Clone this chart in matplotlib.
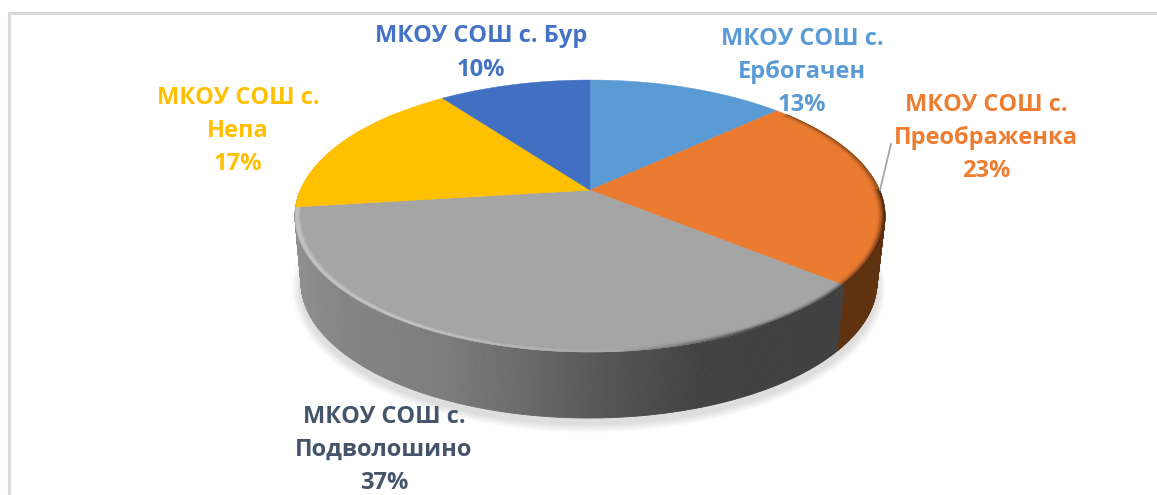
import numpy as np
import matplotlib
matplotlib.use("Agg")
import matplotlib.pyplot as plt
from matplotlib.collections import PolyCollection
from matplotlib.colors import to_rgb

plt.rcParams['font.family'] = ['Open Sans', 'DejaVu Sans']

# ---- data (clockwise from 12 o'clock) ----
categories = ["МКОУ СОШ с.\nЕрбогачен", "МКОУ СОШ с.\nПреображенка", "МКОУ СОШ с.\nПодволошино",
              "МКОУ СОШ с.\nНепа", "МКОУ СОШ с. Бур"]
shares = [13, 23, 37, 17, 10]
face_colors = ["#5B9BD5", "#EA7B30", "#A5A5A5", "#FFC000", "#4170C2"]
label_colors = ["#5B9BD5", "#ED7D31", "#44546A", "#FFC000", "#4472C4"]
side_colors = ["#35597A", "#5F3210", "#404040", "#8F8F8F", "#27437A"]
label_pos = [(802, 72), (986, 138), (384, 450), (238, 131), (481, 53)]

W, H = 1157, 495
fig = plt.figure(figsize=(W / 100, H / 100), dpi=100)
ax = fig.add_axes([0, 0, 1, 1])
ax.set_xlim(0, W)
ax.set_ylim(H, 0)
ax.axis("off")

# geometry of the tilted disc
CX, CY, RX, RY = 590.0, 216.0, 295.0, 136.0
BCX, BCY, BRX, BRY = 589.0, 282.0, 288.0, 136.0
E = 0.19


def project(t, cx, cy, rx, ry):
    """Perspective map of a circle angle to a point on the screen ellipse."""
    d = 1 + E * np.sin(t)
    return (cx + rx * np.sqrt(1 - E ** 2) * np.cos(t) / d,
            cy - ry * (np.sin(t) + E) / d)


apex = (CX, CY - RY * E)
edges = np.pi / 2 - 2 * np.pi * np.cumsum([0] + shares) / sum(shares)

# frame
ax.plot([8.5, 8.5, W], [H, 13, 13], color="#D9D9D9", lw=2.2, solid_joinstyle="miter", zorder=1)

# soft shadow
tt = np.linspace(0, 2 * np.pi, 300)
for g in np.arange(11, 0, -1.0):
    sx, sy = project(tt, BCX, BCY + 6, BRX + g * 0.8, BRY + g * 0.8)
    ax.fill(sx, sy, color="#000000", alpha=0.012, lw=0, zorder=2)


def gray_level(x):
    return np.interp(x, [298, 340, 440, 520, 600, 700, 840],
                     [0.56, 0.52, 0.49, 0.42, 0.34, 0.26, 0.25])


# side wall
quads, cols = [], []
for i in range(len(shares)):
    a, b = edges[i], edges[i + 1]
    ts = np.linspace(a, b, max(4, int(abs(b - a) * 120)))
    base = np.array(to_rgb(side_colors[i]))
    for t0, t1 in zip(ts[:-1], ts[1:]):
        if np.sin((t0 + t1) / 2) > 0.0:
            continue
        x0, y0 = project(t0, CX, CY, RX, RY)
        x1, y1 = project(t1, CX, CY, RX, RY)
        x2, y2 = project(t1, BCX, BCY, BRX, BRY)
        x3, y3 = project(t0, BCX, BCY, BRX, BRY)
        quads.append([(x0, y0), (x1, y1), (x2, y2), (x3, y3)])
        if i == 2:
            cols.append((gray_level((x0 + x1) / 2),) * 3)
        else:
            cols.append(tuple(base))
ax.add_collection(PolyCollection(quads, facecolors=cols, edgecolors=cols, linewidths=0.6, zorder=3))

# top faces
for i in range(len(shares)):
    ts = np.linspace(edges[i], edges[i + 1], 120)
    x, y = project(ts, CX, CY, RX, RY)
    ax.fill(np.r_[apex[0], x], np.r_[apex[1], y], color=face_colors[i], lw=0.3, zorder=4)

# bevel at the rim of the faces
N = 7
scales = np.linspace(1.0, 0.972, N + 1)
for i in range(len(shares)):
    a, b = edges[i], edges[i + 1]
    ts = np.linspace(a, b, max(4, int(abs(b - a) * 80)))
    base = np.array(to_rgb(face_colors[i]))
    quads, cols = [], []
    for t0, t1 in zip(ts[:-1], ts[1:]):
        tm = (t0 + t1) / 2
        if np.sin(tm) > 0.65:
            continue
        x0, y0 = project(t0, CX, CY, RX, RY)
        x1, y1 = project(t1, CX, CY, RX, RY)
        xm = (x0 + x1) / 2
        dark = np.clip((xm - 620) / 150, 0, 1) * 0.8
        if np.sin(tm) > 0:
            dark *= 0.55
        light = np.clip((640 - xm) / 220, 0, 1) * 0.4
        if i != 2:
            light = 0
        for k in range(N):
            s0, s1 = scales[k], scales[k + 1]
            p = (k + 0.5) / N
            dk = dark * (1 - p) ** 1.5
            lt = light * max(0, 1 - abs(p - 0.3) / 0.5)
            c = base * (1 - dk) + (1 - base) * lt
            quads.append([(apex[0] + (x0 - apex[0]) * s0, apex[1] + (y0 - apex[1]) * s0),
                          (apex[0] + (x1 - apex[0]) * s0, apex[1] + (y1 - apex[1]) * s0),
                          (apex[0] + (x1 - apex[0]) * s1, apex[1] + (y1 - apex[1]) * s1),
                          (apex[0] + (x0 - apex[0]) * s1, apex[1] + (y0 - apex[1]) * s1)])
            cols.append(tuple(np.clip(c, 0, 1)))
    ax.add_collection(PolyCollection(quads, facecolors=cols, edgecolors=cols, linewidths=0.4, zorder=5))

# leader line
ax.plot([880, 891], [190, 144], color="#A6A6A6", lw=1.3, zorder=6)

# labels
for name, share, col, (lx, ly) in zip(categories, shares, label_colors, label_pos):
    ax.text(lx, ly, f"{name}\n{share}%", color=col, fontsize=17, fontweight="bold",
            ha="center", va="center", multialignment="center", linespacing=1.52, zorder=7)

fig.savefig("out.png", dpi=100, facecolor="white")
